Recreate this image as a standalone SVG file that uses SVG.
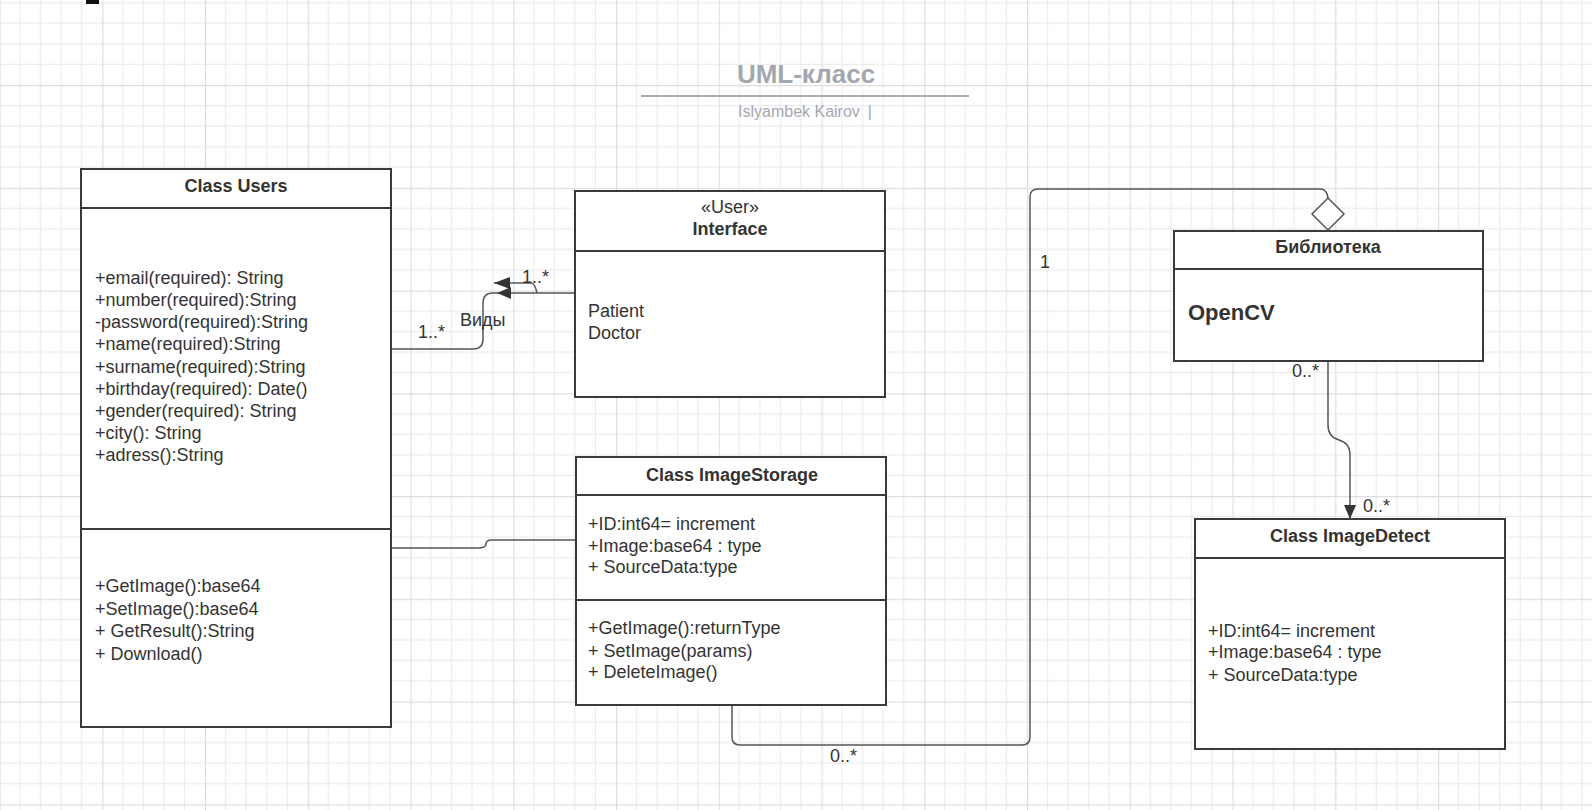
<svg xmlns="http://www.w3.org/2000/svg" width="1592" height="810" viewBox="0 0 1592 810">
<defs>
<pattern id="grid" width="102.75" height="102.75" patternUnits="userSpaceOnUse" x="-0.5" y="-17.75">
<path d="M20.55 0V102.75M41.1 0V102.75M61.65 0V102.75M82.2 0V102.75M0 20.55H102.75M0 41.1H102.75M0 61.65H102.75M0 82.2H102.75" stroke="#ececec" stroke-width="1.2" fill="none"/>
<path d="M0.5 0V102.75M0 0.5H102.75" stroke="#dedede" stroke-width="1.4" fill="none"/>
</pattern>
<marker id="tri" viewBox="0 0 14 12" refX="14" refY="6" markerWidth="14" markerHeight="12" markerUnits="userSpaceOnUse" orient="auto">
<path d="M0 0L14 6L0 12Z" fill="#333"/>
</marker>
</defs>
<style>
.box{fill:#fff;stroke:#3a3a3a;stroke-width:2}
.sep{stroke:#3a3a3a;stroke-width:2}
.t{font-family:"Liberation Sans",Arial,sans-serif;font-size:18px;fill:#333}
.b{font-weight:bold}
.c{text-anchor:middle}
.con{fill:none;stroke:#555;stroke-width:1.5}
.head{fill:#333}
</style>
<rect width="1592" height="810" fill="#fff"/>
<rect width="1592" height="810" fill="url(#grid)"/>
<rect x="86" y="0" width="13" height="4" fill="#111"/>

<g id="title">
<text x="806" y="83" class="t b c" style="font-size:26px;fill:#a3a7b0">UML-класс</text>
<line x1="641" y1="96" x2="969" y2="96" stroke="#a9abb0" stroke-width="2"/>
<text x="805" y="117" class="t c" style="font-size:16px;fill:#a5a8b0">Islyambek Kairov<tspan dx="8">|</tspan></text>
</g>

<g id="connectors">
<path class="con" d="M391 349H473Q483 349 483 339V303Q483 293 493 293H575"/>
<path class="con" d="M494 283H531Q535 283 537 293"/>
<path class="con" d="M391 548H478Q486 548 486 544Q486 540 492 540H576"/>
<path class="con" d="M732 705V737Q732 745 740 745H1022Q1030 745 1030 737V197Q1030 189 1038 189H1320Q1327 189 1328 198"/>
<path class="con" d="M1328 361V425Q1328 437 1339 440Q1350 443 1350 455V519" marker-end="url(#tri)"/>
<path class="head" d="M510 277L494 283L510 289Z"/>
<path class="head" d="M511 287L497 293L511 299Z"/>
</g>

<g id="labels">
<text x="522" y="283" class="t">1..*</text>
<text x="460" y="326" class="t">Виды</text>
<text x="418" y="338" class="t">1..*</text>
<text x="1040" y="268" class="t">1</text>
<text x="830" y="762" class="t">0..*</text>
<text x="1292" y="377" class="t">0..*</text>
<text x="1363" y="512" class="t">0..*</text>
</g>

<g id="users">
<rect class="box" x="81" y="169" width="310" height="558"/>
<line class="sep" x1="81" y1="208" x2="391" y2="208"/>
<line class="sep" x1="81" y1="529" x2="391" y2="529"/>
<text x="236" y="192" class="t b c">Class Users</text>
<text class="t" x="95" y="284">+email(required): String</text>
<text class="t" x="95" y="306">+number(required):String</text>
<text class="t" x="95" y="328">-password(required):String</text>
<text class="t" x="95" y="350">+name(required):String</text>
<text class="t" x="95" y="373">+surname(required):String</text>
<text class="t" x="95" y="395">+birthday(required): Date()</text>
<text class="t" x="95" y="417">+gender(required): String</text>
<text class="t" x="95" y="439">+city(): String</text>
<text class="t" x="95" y="461">+adress():String</text>
<text class="t" x="95" y="592">+GetImage():base64</text>
<text class="t" x="95" y="615">+SetImage():base64</text>
<text class="t" x="95" y="637">+ GetResult():String</text>
<text class="t" x="95" y="660">+ Download()</text>
</g>

<g id="interface">
<rect class="box" x="575" y="191" width="310" height="206"/>
<line class="sep" x1="575" y1="251" x2="885" y2="251"/>
<text x="730" y="213" class="t c">«User»</text>
<text x="730" y="235" class="t b c">Interface</text>
<text class="t" x="588" y="317">Patient</text>
<text class="t" x="588" y="339">Doctor</text>
</g>

<g id="imagestorage">
<rect class="box" x="576" y="457" width="310" height="248"/>
<line class="sep" x1="576" y1="495" x2="886" y2="495"/>
<line class="sep" x1="576" y1="600" x2="886" y2="600"/>
<text x="732" y="481" class="t b c">Class ImageStorage</text>
<text class="t" x="588" y="530">+ID:int64= increment</text>
<text class="t" x="588" y="552">+Image:base64 : type</text>
<text class="t" x="588" y="573">+ SourceData:type</text>
<text class="t" x="588" y="634">+GetImage():returnType</text>
<text class="t" x="588" y="657">+ SetImage(params)</text>
<text class="t" x="588" y="678">+ DeleteImage()</text>
</g>

<g id="library">
<rect class="box" x="1174" y="231" width="309" height="130"/>
<line class="sep" x1="1174" y1="269" x2="1483" y2="269"/>
<text x="1328" y="253" class="t b c">Библиотека</text>
<text x="1188" y="320" class="t b" style="font-size:22px">OpenCV</text>
<path d="M1328 198L1344 214L1328 230L1312 214Z" fill="#fff" stroke="#555" stroke-width="1.5"/>
</g>

<g id="imagedetect">
<rect class="box" x="1195" y="519" width="310" height="230"/>
<line class="sep" x1="1195" y1="558" x2="1505" y2="558"/>
<text x="1350" y="542" class="t b c">Class ImageDetect</text>
<text class="t" x="1208" y="637">+ID:int64= increment</text>
<text class="t" x="1208" y="658">+Image:base64 : type</text>
<text class="t" x="1208" y="681">+ SourceData:type</text>
</g>
</svg>
